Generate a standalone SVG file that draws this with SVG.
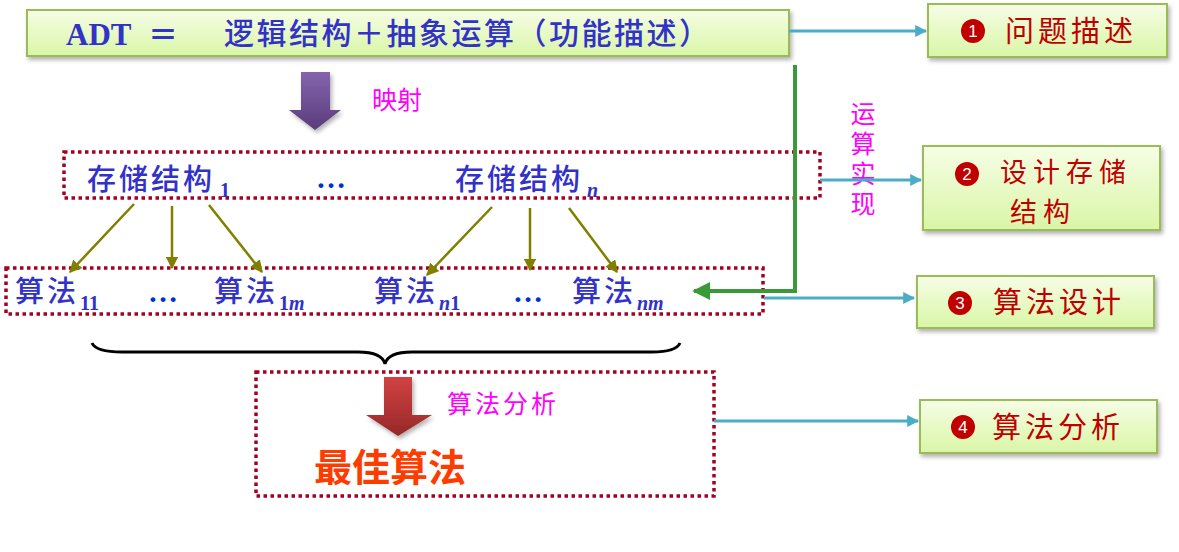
<svg xmlns="http://www.w3.org/2000/svg" width="1179" height="552" viewBox="0 0 1179 552">
<defs>
<linearGradient id="gBox" x1="0" y1="0" x2="0" y2="1">
<stop offset="0" stop-color="#f6fde6"/>
<stop offset="1" stop-color="#d9f6a6"/>
</linearGradient>
<linearGradient id="gPurple" x1="0" y1="0" x2="0" y2="1">
<stop offset="0" stop-color="#8464ac"/>
<stop offset="1" stop-color="#5a3c7c"/>
</linearGradient>
<linearGradient id="gRed" x1="0" y1="0" x2="0" y2="1">
<stop offset="0" stop-color="#d24242"/>
<stop offset="1" stop-color="#962828"/>
</linearGradient>
<filter id="sh" x="-5%" y="-20%" width="110%" height="150%">
<feDropShadow dx="2" dy="3" stdDeviation="2" flood-color="#000" flood-opacity="0.3"/>
</filter>
<marker id="mCyan" viewBox="0 0 10 10" refX="9" refY="5" markerWidth="4" markerHeight="4" orient="auto" markerUnits="strokeWidth">
<path d="M0,0 L10,5 L0,10 z" fill="#4bacc6"/>
</marker>
<marker id="mOlive" viewBox="0 0 10 10" refX="9" refY="5" markerWidth="5" markerHeight="5" orient="auto" markerUnits="strokeWidth">
<path d="M0,0 L10,5 L0,10 z" fill="#808000"/>
</marker>
<marker id="mGreen" viewBox="0 0 10 10" refX="9" refY="5" markerWidth="4.5" markerHeight="4.5" orient="auto" markerUnits="strokeWidth">
<path d="M0,0 L10,5 L0,10 z" fill="#3a9a3a"/>
</marker>
</defs>
<style>
.box{fill:url(#gBox);stroke:#9bbb59;stroke-width:2;filter:url(#sh)}
.dot{fill:none;stroke:#a50021;stroke-width:3.5;stroke-dasharray:3.5 3.5}
.cn{font-family:"Noto Sans CJK SC","Noto Sans CJK TC",sans-serif}
.blue{fill:#3232c8;font-size:29px;font-weight:500;letter-spacing:3px}
.sub{font-family:"Liberation Serif",serif;font-weight:bold;fill:#3232c8;font-size:20px}
.it{font-style:italic}
.dots{font-family:"Liberation Serif",serif;font-weight:bold;fill:#0033cc;font-size:30px}
.red{fill:#c00000;font-size:29px;letter-spacing:4px}
.red2{fill:#c00000;font-size:27px;letter-spacing:6px}
.mag{fill:#ff00ff;font-size:25px}
.num{font-family:"Liberation Sans",sans-serif;fill:#fff;font-size:17px;text-anchor:middle}
.cyan{stroke:#4bacc6;stroke-width:3;fill:none;marker-end:url(#mCyan)}
.olive{stroke:#808000;stroke-width:2.5;fill:none;marker-end:url(#mOlive)}
.vert{writing-mode:vertical-rl;letter-spacing:5px}
</style>

<g id="adt">
<rect class="box" x="27" y="10" width="762" height="46"/>
<text x="66" y="45" font-family="Liberation Serif,serif" font-weight="bold" font-size="31" fill="#3232c8">ADT</text>
<text x="148" y="45" class="cn" font-weight="bold" font-size="30" fill="#3232c8">＝</text>
<text x="224" y="44" class="cn" font-weight="500" font-size="30" fill="#3232c8" textLength="485">逻辑结构＋抽象运算（功能描述）</text>
</g>

<g id="step1">
<rect class="box" x="928" y="4" width="239" height="53"/>
<circle cx="973" cy="31" r="12" fill="#c00000"/>
<text x="973" y="37" class="num">1</text>
<text x="1005" y="42" class="cn red">问题描述</text>
</g>

<g id="step2">
<rect class="box" x="923" y="146" width="237" height="84"/>
<circle cx="967" cy="174" r="12" fill="#c00000"/>
<text x="967" y="180" class="num">2</text>
<text x="1000" y="182" class="cn red2">设计存储</text>
<text x="1010" y="222" class="cn red2">结构</text>
</g>

<g id="step3">
<rect class="box" x="917" y="276" width="237" height="52"/>
<circle cx="960" cy="303" r="12" fill="#c00000"/>
<text x="960" y="309" class="num">3</text>
<text x="993" y="313" class="cn red">算法设计</text>
</g>

<g id="step4">
<rect class="box" x="920" y="400" width="237" height="53"/>
<circle cx="963" cy="427" r="12" fill="#c00000"/>
<text x="963" y="433" class="num">4</text>
<text x="992" y="438" class="cn red">算法分析</text>
</g>

<g id="map">
<path d="M301,72 H330 V110 H341 L315,130 L289,110 H301 Z" fill="url(#gPurple)" filter="url(#sh)"/>
<text x="372" y="109" class="cn mag">映射</text>
</g>

<g id="storage">
<rect class="dot" x="64" y="152" width="756" height="46"/>
<text x="87" y="190" class="cn blue">存储结构</text>
<text x="220" y="197" class="sub">1</text>
<text x="316" y="188" class="dots">…</text>
<text x="455" y="190" class="cn blue">存储结构</text>
<text x="587" y="197" class="sub it">n</text>
</g>

<g id="algorithms">
<rect class="dot" x="6" y="268" width="757" height="46"/>
<text x="15" y="302" class="cn blue">算法</text>
<text x="80" y="310" class="sub">11</text>
<text x="148" y="302" class="dots">…</text>
<text x="214" y="302" class="cn blue">算法</text>
<text x="279" y="310" class="sub">1<tspan class="it">m</tspan></text>
<text x="374" y="302" class="cn blue">算法</text>
<text x="439" y="310" class="sub"><tspan class="it">n</tspan>1</text>
<text x="513" y="302" class="dots">…</text>
<text x="572" y="302" class="cn blue">算法</text>
<text x="637" y="310" class="sub it">nm</text>
</g>

<g id="brace">
<path d="M92,343 Q96,352 122,352 L358,352 Q382,352 385,364 Q388,352 412,352 L652,352 Q676,352 680,343" fill="none" stroke="#000" stroke-width="3"/>
</g>

<g id="best">
<rect class="dot" x="256" y="372" width="458" height="124"/>
<path d="M384,377 H412 V415 H432 L398,436 L366,415 H384 Z" fill="url(#gRed)" filter="url(#sh)"/>
<text x="447" y="413" class="cn mag" letter-spacing="3">算法分析</text>
<text x="314" y="481" class="cn" font-weight="bold" font-size="38" fill="#ff3c00">最佳算法</text>
</g>

<g id="impl">
<text x="863" y="101" class="cn mag vert">运算实现</text>
</g>

<g id="connectors">
<line class="cyan" x1="789" y1="31" x2="926" y2="31"/>
<line class="cyan" x1="820" y1="180" x2="921" y2="180"/>
<line class="cyan" x1="764" y1="298" x2="914" y2="298"/>
<line class="cyan" x1="714" y1="421" x2="918" y2="421"/>
<path d="M795,65 V291 H694" fill="none" stroke="#3a9a3a" stroke-width="4" marker-end="url(#mGreen)"/>
<line class="olive" x1="134" y1="204" x2="70" y2="272"/>
<line class="olive" x1="172" y1="206" x2="172" y2="268"/>
<line class="olive" x1="209" y1="205" x2="262" y2="272"/>
<line class="olive" x1="492" y1="207" x2="427" y2="275"/>
<line class="olive" x1="530" y1="208" x2="530" y2="270"/>
<line class="olive" x1="569" y1="208" x2="617" y2="272"/>
</g>
</svg>
